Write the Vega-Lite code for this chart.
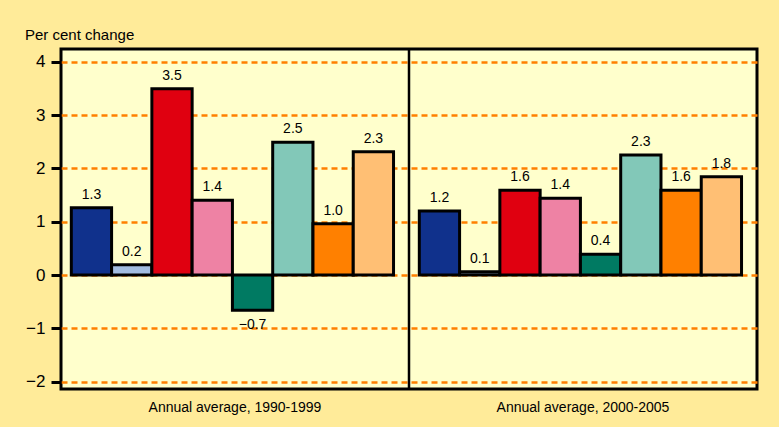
{
  "$schema": "https://vega.github.io/schema/vega-lite/v6.json",
  "width": 696,
  "height": 340,
  "autosize": "none",
  "padding": {"left": 61, "top": 49, "right": 22, "bottom": 38},
  "background": "#ffeb99",
  "config": {
    "view": {"fill": "#ffffcc", "stroke": "#000000", "strokeWidth": 3},
    "font": "Liberation Sans"
  },
  "title": {
    "text": "Per cent change",
    "anchor": "start",
    "frame": "group",
    "dx": -36,
    "offset": 5,
    "fontSize": 15,
    "fontWeight": "normal",
    "color": "#000000"
  },
  "datasets": {
    "bars": [
      {"group": "Annual average, 1990-1999", "series": "S1", "value": 1.26},
      {"group": "Annual average, 1990-1999", "series": "S2", "value": 0.19},
      {"group": "Annual average, 1990-1999", "series": "S3", "value": 3.49},
      {"group": "Annual average, 1990-1999", "series": "S4", "value": 1.40},
      {"group": "Annual average, 1990-1999", "series": "S5", "value": -0.66},
      {"group": "Annual average, 1990-1999", "series": "S6", "value": 2.49},
      {"group": "Annual average, 1990-1999", "series": "S7", "value": 0.96},
      {"group": "Annual average, 1990-1999", "series": "S8", "value": 2.31},
      {"group": "Annual average, 2000-2005", "series": "S1", "value": 1.20},
      {"group": "Annual average, 2000-2005", "series": "S2", "value": 0.06},
      {"group": "Annual average, 2000-2005", "series": "S3", "value": 1.59},
      {"group": "Annual average, 2000-2005", "series": "S4", "value": 1.44},
      {"group": "Annual average, 2000-2005", "series": "S5", "value": 0.39},
      {"group": "Annual average, 2000-2005", "series": "S6", "value": 2.25},
      {"group": "Annual average, 2000-2005", "series": "S7", "value": 1.59},
      {"group": "Annual average, 2000-2005", "series": "S8", "value": 1.84}
    ],
    "divider": [
      {"group": "Annual average, 2000-2005"}
    ]
  },
  "encoding": {
    "x": {
      "field": "group",
      "type": "nominal",
      "scale": {
        "domain": ["Annual average, 1990-1999", "Annual average, 2000-2005"],
        "paddingInner": 0,
        "paddingOuter": 0
      },
      "axis": {
        "title": null,
        "labelAngle": 0,
        "ticks": false,
        "domain": false,
        "labelFontSize": 14,
        "labelPadding": 11,
        "labelColor": "#000000"
      }
    }
  },
  "layer": [
    {
      "data": {"name": "bars"},
      "mark": {"type": "bar", "stroke": "#000000", "strokeWidth": 3, "strokeJoin": "miter"},
      "encoding": {
        "xOffset": {
          "field": "series",
          "type": "nominal",
          "scale": {
            "domain": ["S1", "S2", "S3", "S4", "S5", "S6", "S7", "S8"],
            "paddingInner": 0,
            "paddingOuter": 0.32,
            "align": 0.4
          }
        },
        "y": {
          "field": "value",
          "type": "quantitative",
          "scale": {"domain": [-2.1375, 4.2375], "nice": false, "zero": false},
          "axis": {
            "title": null,
            "values": [-2, -1, 0, 1, 2, 3, 4],
            "format": "d",
            "grid": true,
            "gridColor": "#ff8000",
            "gridDash": [6, 4],
            "gridWidth": 2.5,
            "gridOpacity": 1,
            "domain": false,
            "tickColor": "#000000",
            "tickWidth": 3,
            "tickSize": 10,
            "labelFontSize": 17,
            "labelPadding": 6,
            "labelColor": "#000000"
          }
        },
        "color": {
          "field": "series",
          "type": "nominal",
          "legend": null,
          "scale": {
            "domain": ["S1", "S2", "S3", "S4", "S5", "S6", "S7", "S8"],
            "range": ["#10318c", "#a2bce0", "#e00010", "#ee82a4", "#007a62", "#82c8b8", "#ff8000", "#ffbf74"]
          }
        }
      }
    },
    {
      "data": {"name": "bars"},
      "transform": [{"filter": "datum.value >= 0"}],
      "mark": {"type": "text", "baseline": "bottom", "dy": -6, "fontSize": 14, "color": "#000000"},
      "encoding": {
        "xOffset": {"field": "series", "type": "nominal"},
        "y": {"field": "value", "type": "quantitative"},
        "text": {"field": "value", "type": "quantitative", "format": ".1f"}
      }
    },
    {
      "data": {"name": "bars"},
      "transform": [{"filter": "datum.value < 0"}],
      "mark": {"type": "text", "baseline": "top", "dy": 8, "fontSize": 14, "color": "#000000"},
      "encoding": {
        "xOffset": {"field": "series", "type": "nominal"},
        "y": {"field": "value", "type": "quantitative"},
        "text": {"field": "value", "type": "quantitative", "format": ".1f"}
      }
    },
    {
      "data": {"name": "divider"},
      "mark": {"type": "rule", "color": "#000000", "strokeWidth": 2.5},
      "encoding": {
        "x": {"field": "group", "type": "nominal", "bandPosition": 0}
      }
    }
  ]
}
